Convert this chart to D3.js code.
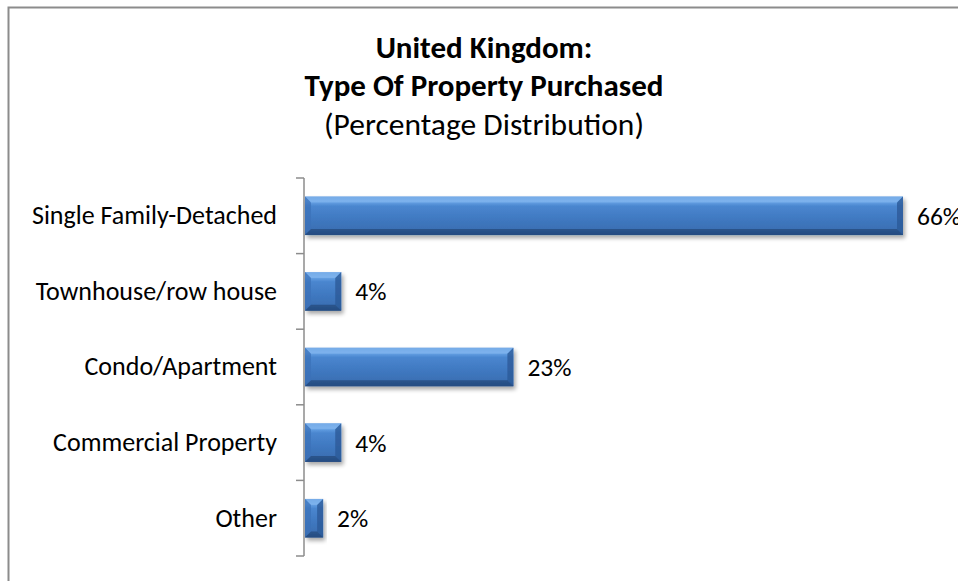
<!DOCTYPE html>
<html>
<head>
<meta charset="utf-8">
<script src="https://cdn.jsdelivr.net/npm/d3@7"></script>
<style>
  html, body { margin: 0; padding: 0; background: #fff; }
  svg { display: block; }
  text { font-family: Carlito, Calibri, "Open Sans", sans-serif; fill: #000; }
</style>
</head>
<body>
<svg id="chart" width="958" height="581"></svg>
<script>
// Property types and their share of purchases (%)
const categories = ["Single Family-Detached", "Townhouse/row house", "Condo/Apartment", "Commercial Property", "Other"];
const values = [66, 4, 23, 4, 2];
const titleLines = ["United Kingdom:", "Type Of Property Purchased", "(Percentage Distribution)"];

const svg = d3.select("#chart");

// outer chart frame (runs past the right and bottom edges)
svg.append("rect")
  .attr("x", 8.5).attr("y", 7.5)
  .attr("width", 1000).attr("height", 700)
  .attr("fill", "#fff").attr("stroke", "#8c8c8c").attr("stroke-width", 2);

const defs = svg.append("defs");
const grad = defs.append("linearGradient").attr("id", "barGrad")
  .attr("x1", 0).attr("y1", 0).attr("x2", 0).attr("y2", 1);
[[0, "#5d97dc"], [0.12, "#6aa6e8"], [0.25, "#4a86cf"], [0.6, "#3f78c0"], [0.88, "#3a6fb3"], [1, "#2b5591"]]
  .forEach(([o, c]) => grad.append("stop").attr("offset", o).attr("stop-color", c));

const shadow = defs.append("filter").attr("id", "shadow")
  .attr("x", "-10%").attr("y", "-30%").attr("width", "130%").attr("height", "180%");
shadow.append("feGaussianBlur").attr("in", "SourceAlpha").attr("stdDeviation", 2.2);
shadow.append("feOffset").attr("dx", 2).attr("dy", 3).attr("result", "b");
shadow.append("feComponentTransfer").append("feFuncA").attr("type", "linear").attr("slope", 0.35);
const merge = shadow.append("feMerge");
merge.append("feMergeNode");
merge.append("feMergeNode").attr("in", "SourceGraphic");

// title
const title = svg.append("g");
titleLines.forEach((t, i) => {
  title.append("text")
    .attr("x", 484).attr("y", [58, 96, 135][i])
    .attr("text-anchor", "middle")
    .attr("font-size", i < 2 ? 31 : 31.5)
    .attr("font-weight", i < 2 ? "bold" : "normal")
    .text(t);
});

const x0 = 305;
const x = d3.scaleLinear().domain([0, 66]).range([x0, 903]);
const y = d3.scaleBand().domain(categories).range([178, 556]).paddingInner(0.49).paddingOuter(0.245);

// category axis
const axis = svg.append("g").attr("transform", `translate(${x0 - 1},0)`)
  .call(d3.axisLeft(y).tickSize(0).tickPadding(27));
axis.select(".domain").remove();
axis.selectAll("text").attr("font-size", 26).attr("fill", "#000")
  .style("font-family", "Carlito, Calibri, 'Open Sans', sans-serif");

// axis spine with tick marks between categories
const step = y.step();
const tickYs = d3.range(categories.length + 1).map(i => 178 + i * step);
svg.append("line").attr("x1", x0 - 1).attr("x2", x0 - 1)
  .attr("y1", 178).attr("y2", 556).attr("stroke", "#8c8c8c").attr("stroke-width", 1.5);
svg.selectAll(".tk").data(tickYs).join("line")
  .attr("x1", x0 - 9).attr("x2", x0 - 1)
  .attr("y1", d => d).attr("y2", d => d)
  .attr("stroke", "#8c8c8c").attr("stroke-width", 1.5);

// bars with bevelled edges
const bars = svg.selectAll(".bar").data(values).join("g")
  .attr("class", "bar")
  .attr("filter", "url(#shadow)");

bars.each(function (v, i) {
  const g = d3.select(this);
  const bx = x(0), by = y(categories[i]);
  const bw = x(v) - x(0), bh = y.bandwidth();
  const b = Math.min(6, bw / 3);
  g.append("rect").attr("x", bx).attr("y", by).attr("width", bw).attr("height", bh)
    .attr("fill", "url(#barGrad)");
  // top bevel
  g.append("path").attr("d", `M${bx},${by}H${bx + bw}L${bx + bw - b},${by + b}H${bx + b}Z`)
    .attr("fill", "#8bbcf0").attr("opacity", 0.55);
  // left bevel
  g.append("path").attr("d", `M${bx},${by}L${bx + b},${by + b}V${by + bh - b}L${bx},${by + bh}Z`)
    .attr("fill", "#3b71b8").attr("opacity", 0.7);
  // right bevel
  g.append("path").attr("d", `M${bx + bw},${by}L${bx + bw - b},${by + b}V${by + bh - b}L${bx + bw},${by + bh}Z`)
    .attr("fill", "#2c5a98").attr("opacity", 0.8);
  // bottom bevel
  g.append("path").attr("d", `M${bx},${by + bh}H${bx + bw}L${bx + bw - b},${by + bh - b}H${bx + b}Z`)
    .attr("fill", "#24497c").attr("opacity", 0.75);
});

// value labels
svg.selectAll(".val").data(values).join("text")
  .attr("class", "val")
  .attr("x", d => x(d) + 14)
  .attr("y", (d, i) => y(categories[i]) + y.bandwidth() / 2)
  .attr("dy", "0.35em")
  .attr("font-size", 25.5)
  .text(d => d + "%");
</script>
</body>
</html>
